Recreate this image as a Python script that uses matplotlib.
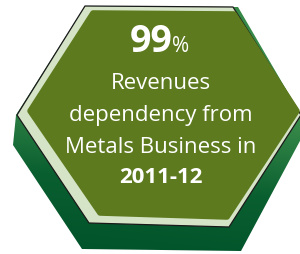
import numpy as np
import matplotlib.pyplot as plt
from matplotlib.patches import Polygon
from matplotlib.colors import LinearSegmentedColormap

# figures shown in the badge
headline_value = 99
headline_unit = '%'
caption_lines = ['Revenues', 'dependency from', 'Metals Business in']
period_label = '2011-12'

fig = plt.figure(figsize=(3, 2.55), dpi=100)
ax = fig.add_axes([0, 0, 1, 1])
ax.set_xlim(0, 300)
ax.set_ylim(255, 0)
ax.axis('off')


def hexagon(left, top, right, bottom, inset_top, inset_bottom, mid_y):
    return [(left + inset_top, top), (right - inset_top, top + 1),
            (right, mid_y), (right - inset_bottom, bottom + 4),
            (left + inset_bottom, bottom), (left, mid_y)]


# dark extruded base: the rim hexagon pushed down, vertical gradient
base_pts = [(85, 7), (238, 8), (301, 116), (301, 140), (241, 252),
            (82, 250), (13, 146), (16, 116)]
base = Polygon(base_pts, closed=True, facecolor='none', edgecolor='none',
               joinstyle='round')
ax.add_patch(base)
cmap = LinearSegmentedColormap.from_list('base', ['#005229', '#0a5f30', '#3a8c4a'])
yy, xx = np.mgrid[0:255, 0:300]
grad = np.clip((250 - yy) / 130.0, 0, 1) * 0.8 + (xx / 300.0) * 0.2
img = ax.imshow(grad, cmap=cmap, extent=(0, 300, 255, 0), zorder=1,
                vmin=0, vmax=1)
img.set_clip_path(base)

# pale rim with a thin dark edge
rim = Polygon(hexagon(17, 7, 301, 224, 68, 72, 116), closed=True,
              facecolor='#d5e3c7', edgecolor='#1a1a1a', linewidth=0.9,
              joinstyle='round', zorder=2)
ax.add_patch(rim)

# olive face
face = Polygon(hexagon(30, 14, 297, 214, 63, 70, 112), closed=True,
               facecolor='#5d7a1e', edgecolor='#5d7a1e', linewidth=4,
               joinstyle='round', zorder=3)
ax.add_patch(face)

font = 'Open Sans'
ax.text(172, 42, str(headline_value), ha='right', va='center', color='white',
        fontsize=27, fontweight='bold', family=font, zorder=4)
ax.text(172, 46, headline_unit, ha='left', va='center', color='white',
        fontsize=15, family=font, zorder=4)
for i, line in enumerate(caption_lines):
    ax.text(161, 84 + i * 32, line, ha='center', va='center', color='white',
            fontsize=16, family=font, zorder=4)
ax.text(161, 178, period_label, ha='center', va='center', color='white',
        fontsize=16, fontweight='bold', family=font, zorder=4)

fig.savefig('out.png', dpi=100)
